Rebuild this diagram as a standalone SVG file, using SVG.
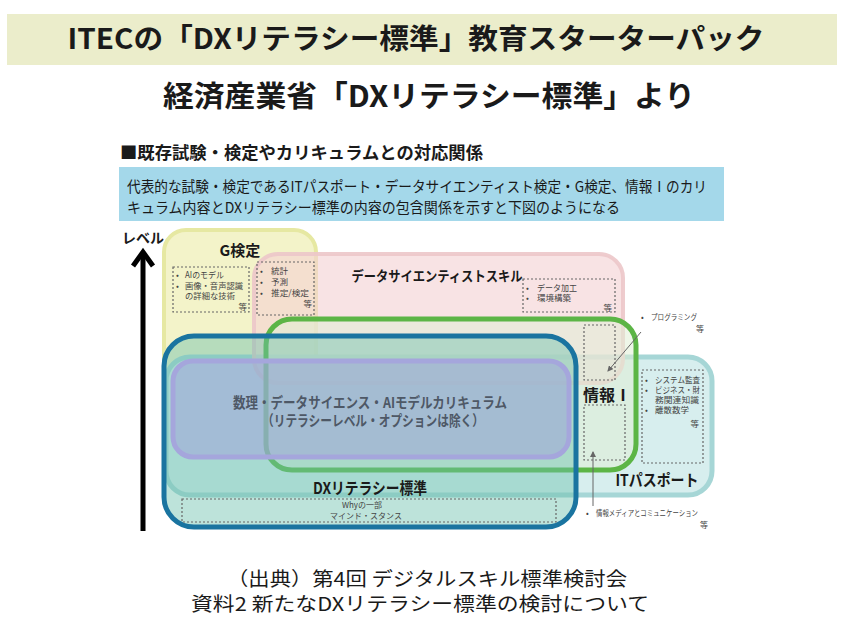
<svg xmlns="http://www.w3.org/2000/svg" width="844" height="631" viewBox="0 0 844 631">
<style>
text{font-family:"Noto Sans CJK JP","Noto Sans",sans-serif;fill:#1a1a1a}
.b{font-weight:bold}
.sm{font-size:8.5px;fill:#444}
.xs{font-size:8px;fill:#444}
.dash{fill:none;stroke:#666;stroke-width:1.2;stroke-dasharray:2 2}
.lbl{font-size:15px;font-weight:bold}
.conn{stroke:#666;stroke-width:1}
</style>
<defs>
<marker id="ah" markerWidth="6" markerHeight="6" refX="5" refY="3" orient="auto" markerUnits="userSpaceOnUse">
<path d="M0,0 L6,3 L0,6 z" fill="#666"/>
</marker>
</defs>
<rect width="844" height="631" fill="#ffffff"/>
<g id="title">
<rect x="7" y="14" width="830" height="51" fill="#ebedcb"/>
<text x="416" y="49" class="b" font-size="28" text-anchor="middle" textLength="697" lengthAdjust="spacingAndGlyphs">ITECの「DXリテラシー標準」教育スターターパック</text>
</g>
<text x="429" y="107" class="b" font-size="29" text-anchor="middle" textLength="532" lengthAdjust="spacingAndGlyphs" fill="#222">経済産業省「DXリテラシー標準」より</text>
<text x="120" y="159" class="b" font-size="17" textLength="363" lengthAdjust="spacingAndGlyphs" fill="#222">■既存試験・検定やカリキュラムとの対応関係</text>
<g id="intro">
<rect x="119" y="167" width="605" height="54" fill="#a4d8ea"/>
<text x="127" y="192" font-size="15" textLength="580" lengthAdjust="spacingAndGlyphs" fill="#333">代表的な試験・検定であるITパスポート・データサイエンティスト検定・G検定、情報Ⅰのカリ</text>
<text x="127" y="213" font-size="15" textLength="493" lengthAdjust="spacingAndGlyphs" fill="#333">キュラム内容とDXリテラシー標準の内容の包含関係を示すと下図のようになる</text>
</g>
<g id="level">
<text x="122" y="243" class="b" font-size="14">レベル</text>
<line x1="143" y1="254" x2="143" y2="531" stroke="#000" stroke-width="5"/>
<polyline points="133,266 143,252 153,266" fill="none" stroke="#000" stroke-width="5" stroke-linejoin="miter"/>
</g>
<g id="g-kentei">
<rect x="164" y="230" width="152" height="160" rx="22" fill="#f3f3c9" stroke="#e6e8a2" stroke-width="4"/>
</g>
<g id="it-passport">
<rect x="166" y="357" width="546" height="138" rx="24" fill="#d7eeee" stroke="#a6d6d6" stroke-width="5"/>
</g>
<g id="ds-skill">
<rect x="254" y="254" width="369" height="129" rx="24" fill="#f4d2d4" fill-opacity="0.62" stroke="#ecc6c9" stroke-width="4" stroke-opacity="0.9"/>
</g>
<g id="joho1">
<rect x="266" y="319" width="370" height="151" rx="26" fill="#e0efd6" fill-opacity="0.55" stroke="#5cb546" stroke-width="5"/>
</g>
<g id="dx-literacy">
<rect x="164" y="336" width="412" height="191" rx="30" fill="#6cc1ad" fill-opacity="0.45" stroke="#1a74a0" stroke-width="5"/>
</g>
<g id="math-ds-ai">
<rect x="173" y="361" width="396" height="96" rx="20" fill="#a0a8d8" fill-opacity="0.6" stroke="#a5a6dc" stroke-width="5"/>
<text x="370" y="408" font-size="14.5" class="b" text-anchor="middle" textLength="274" lengthAdjust="spacingAndGlyphs" style="fill:#4e5866">数理・データサイエンス・AIモデルカリキュラム</text>
<text x="373" y="426" font-size="14.5" class="b" text-anchor="middle" textLength="222" lengthAdjust="spacingAndGlyphs" style="fill:#4e5866">（リテラシーレベル・オプションは除く）</text>
</g>
<g id="labels">
<text x="240" y="256" class="lbl" text-anchor="middle">G検定</text>
<rect class="dash" x="173" y="267" width="76" height="45"/>
<text class="sm" y="278"><tspan x="176">•</tspan><tspan x="185" textLength="39" lengthAdjust="spacingAndGlyphs">AIのモデル</tspan></text>
<text class="sm" y="289"><tspan x="176">•</tspan><tspan x="185" textLength="58" lengthAdjust="spacingAndGlyphs">画像・音声認識</tspan></text>
<text class="sm" x="185" y="299" textLength="50" lengthAdjust="spacingAndGlyphs">の詳細な技術</text>
<text class="sm" x="247" y="310" text-anchor="end">等</text>
<rect class="dash" x="257" y="262" width="57" height="53"/>
<text class="sm" y="274"><tspan x="260">•</tspan><tspan x="271">統計</tspan></text>
<text class="sm" y="285"><tspan x="260">•</tspan><tspan x="271">予測</tspan></text>
<text class="sm" y="296"><tspan x="260">•</tspan><tspan x="271" textLength="38" lengthAdjust="spacingAndGlyphs">推定/検定</tspan></text>
<text class="sm" x="312" y="307" text-anchor="end">等</text>
<text x="437" y="281" class="b" font-size="14" text-anchor="middle" textLength="171" lengthAdjust="spacingAndGlyphs">データサイエンティストスキル</text>
<rect class="dash" x="523" y="279" width="92" height="33"/>
<text class="sm" y="291"><tspan x="526">•</tspan><tspan x="537" textLength="40" lengthAdjust="spacingAndGlyphs">データ加工</tspan></text>
<text class="sm" y="301"><tspan x="526">•</tspan><tspan x="537" textLength="34" lengthAdjust="spacingAndGlyphs">環境構築</tspan></text>
<text class="sm" x="612" y="311" text-anchor="end">等</text>
<rect class="dash" x="584" y="325" width="31" height="55"/>
<text class="xs" y="320"><tspan x="641">•</tspan><tspan x="651" textLength="46" lengthAdjust="spacingAndGlyphs">プログラミング</tspan></text>
<text class="xs" x="704" y="332" text-anchor="end">等</text>
<text x="583" y="401" class="b" font-size="16">情報Ⅰ</text>
<rect class="dash" x="584" y="405" width="41" height="55"/>
<text class="xs" y="516"><tspan x="586">•</tspan><tspan x="596" textLength="102" lengthAdjust="spacingAndGlyphs">情報メディアとコミュニケーション</tspan></text>
<text class="xs" x="708" y="528" text-anchor="end">等</text>
<rect class="dash" x="642" y="370" width="61" height="93"/>
<text class="sm" y="383"><tspan x="645">•</tspan><tspan x="655" textLength="45" lengthAdjust="spacingAndGlyphs">システム監査</tspan></text>
<text class="sm" y="393"><tspan x="645">•</tspan><tspan x="655" textLength="45" lengthAdjust="spacingAndGlyphs">ビジネス・財</tspan></text>
<text class="sm" x="655" y="403" textLength="44" lengthAdjust="spacingAndGlyphs">務関連知識</text>
<text class="sm" y="413"><tspan x="645">•</tspan><tspan x="655" textLength="34" lengthAdjust="spacingAndGlyphs">離散数学</tspan></text>
<text class="sm" x="699" y="427" text-anchor="end">等</text>
<text x="657" y="486" class="b" font-size="16" text-anchor="middle" textLength="83" lengthAdjust="spacingAndGlyphs">ITパスポート</text>
<text x="370" y="494" class="b" font-size="16" text-anchor="middle" textLength="114" lengthAdjust="spacingAndGlyphs">DXリテラシー標準</text>
<rect class="dash" x="182" y="499" width="374" height="23"/>
<text class="xs" x="362" y="508" text-anchor="middle">Whyの一部</text>
<text class="xs" x="366" y="519" text-anchor="middle">マインド・スタンス</text>
</g>
<g id="connectors">
<line class="conn" x1="641" y1="332" x2="608" y2="371" marker-end="url(#ah)"/>
<line class="conn" x1="593" y1="506" x2="593" y2="452" marker-end="url(#ah)"/>
</g>
<g id="source">
<text x="427" y="586" font-size="19" text-anchor="middle" textLength="400" lengthAdjust="spacingAndGlyphs" fill="#222">（出典）第4回 デジタルスキル標準検討会</text>
<text x="420" y="611" font-size="19" text-anchor="middle" textLength="458" lengthAdjust="spacingAndGlyphs" fill="#222">資料2 新たなDXリテラシー標準の検討について</text>
</g>
</svg>
